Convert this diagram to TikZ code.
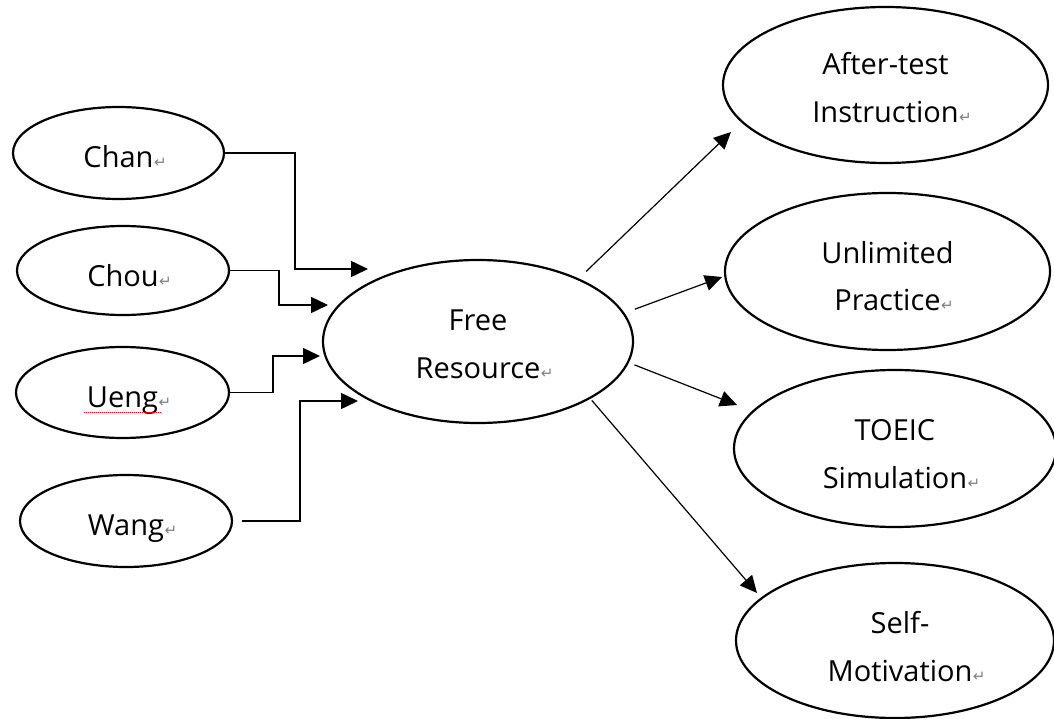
\documentclass[tikz,border=0pt]{standalone}
\usepackage{fontspec}
\setmainfont{Open Sans}
\newfontfamily\dejavu{DejaVu Sans}
\usetikzlibrary{shapes.geometric,arrows.meta,calc}
\newcommand{\retmark}{\rlap{\hspace{0.5pt}{\dejavu\fontsize{15}{15}\selectfont\textcolor{gray}{↵}}}}
\newcommand{\oneline}[2]{\raisebox{-#1pt}[0pt][0pt]{#2}}
\newcommand{\twoline}[3]{\raisebox{#1pt}[0pt][0pt]{\begin{tabular}[t]{@{}c@{}}#2\\#3\end{tabular}}}
\begin{document}
\begin{tikzpicture}[x=1pt,y=-1pt,
  oval/.style={ellipse, draw, line width=2.2pt, inner sep=0pt, font=\fontsize{29}{48}\selectfont},
  conn/.style={line width=1.5pt, -{Triangle[length=17pt,width=16pt]}},
  diag/.style={line width=1.2pt, -{Triangle[length=17pt,width=16pt]}}]
\useasboundingbox (0,0) rectangle (1054,719);
\fill[white] (0,0) rectangle (1054,719);

% left ellipses
\node[oval, minimum width=211pt, minimum height=92pt] (chan) at (118.5,153) {\oneline{15}{Chan\retmark}};
\node[oval, minimum width=212pt, minimum height=89pt] (chou) at (123,270.5) {\oneline{15.5}{Chou\retmark}};
\node[oval, minimum width=213pt, minimum height=91pt] (ueng) at (122.5,392.5) {\oneline{14.5}{Ueng\retmark}};
\node[oval, minimum width=212pt, minimum height=92pt] (wang) at (126,521) {\oneline{14}{Wang\retmark}};

% centre
\node[oval, minimum width=310pt, minimum height=163pt] (fr) at (478,341.5) {\twoline{11.5}{Free}{Resource\retmark}};

% right ellipses
\node[oval, minimum width=325pt, minimum height=156pt] (ai) at (885.5,85) {\twoline{10}{After-test}{Instruction\retmark}};
\node[oval, minimum width=325pt, minimum height=157pt] (up) at (887.5,271.5) {\twoline{8.5}{Unlimited}{Practice\retmark}};
\node[oval, minimum width=322pt, minimum height=157pt] (ts) at (895,448.5) {\twoline{8.5}{TOEIC}{Simulation\retmark}};
\node[oval, minimum width=318pt, minimum height=155pt] (sm) at (895,640.5) {\twoline{7.5}{\hspace*{10pt}Self-}{\hspace*{10pt}Motivation\retmark}};

% spell-check underline
\draw[red, line width=1pt, dash pattern=on 1pt off 1pt] ([shift={(-38.5,19.5)}]ueng.center) -- ([shift={(39.5,19.5)}]ueng.center);

% arrow tips
\coordinate (t1) at (368,269);
\coordinate (t2) at (328,305);
\coordinate (t3) at (320,356);
\coordinate (t4) at (358,401);
\coordinate (e1) at (731,132);
\coordinate (e2) at (722,277);
\coordinate (e3) at (737,405);
\coordinate (e4) at (757,593);

% elbow connectors
\draw[conn] (chan.east) -| ([xshift=-73pt]t1) -- (t1);
\draw[conn] (chou.east) -| ([xshift=-49pt]t2) -- (t2);
\draw[conn] (ueng.east) -| ([xshift=-47pt]t3) -- (t3);
\draw[conn, shorten <=9pt] (wang.east) -| ([xshift=-58pt]t4) -- (t4);

% diagonal connectors
\draw[diag, shorten <=10pt] (fr.32.6) -- (e1);
\draw[diag, shorten <=11pt] (fr.11.8) -- (e2);
\draw[diag, shorten <=6pt] (fr.-8.6) -- (e3);
\draw[diag, shorten <=2pt] (fr.-27.6) -- (e4);
\end{tikzpicture}
\end{document}
